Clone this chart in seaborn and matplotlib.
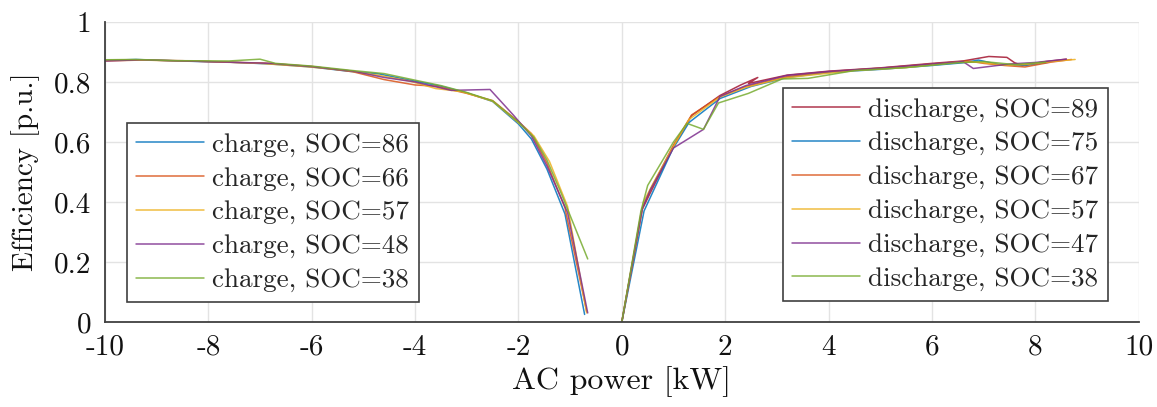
import numpy as np
import pandas as pd
import matplotlib
matplotlib.use("Agg")
import matplotlib.pyplot as plt
import seaborn as sns

# ---------------- data ----------------
charge_labels = ["charge, SOC=86", "charge, SOC=66", "charge, SOC=57",
                 "charge, SOC=48", "charge, SOC=38"]
charge_x = [
    [-10.0, -9.4, -8.6, -7.6, -6.8, -6.0, -5.3, -4.7, -4.1, -3.5, -3.0, -2.5, -2.0, -1.75, -1.45, -1.1, -0.72],
    [-10.0, -9.3, -8.5, -7.7, -6.9, -6.0, -5.2, -4.6, -4.0, -3.6, -3.0, -2.5, -2.0, -1.75, -1.45, -1.1, -0.68],
    [-10.0, -9.5, -8.8, -7.9, -7.0, -6.1, -5.3, -4.7, -4.1, -3.6, -3.1, -2.5, -2.0, -1.7, -1.4, -1.05, -0.68],
    [-10.0, -9.3, -8.5, -7.6, -6.8, -6.0, -5.2, -4.6, -4.0, -3.3, -2.55, -2.1, -1.75, -1.45, -1.05, -0.66],
    [-10.0, -9.4, -8.6, -7.6, -7.0, -6.7, -6.0, -5.2, -4.6, -4.0, -3.5, -3.0, -2.5, -2.0, -1.7, -1.45, -1.2, -0.66],
]
charge_y = [
    [0.872, 0.875, 0.870, 0.866, 0.860, 0.850, 0.836, 0.827, 0.806, 0.786, 0.764, 0.735, 0.660, 0.610, 0.510, 0.360, 0.025],
    [0.870, 0.873, 0.871, 0.866, 0.863, 0.852, 0.834, 0.808, 0.790, 0.786, 0.762, 0.738, 0.668, 0.628, 0.530, 0.380, 0.035],
    [0.872, 0.874, 0.871, 0.868, 0.862, 0.851, 0.838, 0.822, 0.803, 0.778, 0.768, 0.736, 0.664, 0.620, 0.535, 0.385, 0.030],
    [0.870, 0.874, 0.870, 0.866, 0.862, 0.851, 0.836, 0.815, 0.800, 0.772, 0.775, 0.690, 0.620, 0.520, 0.365, 0.030],
    [0.874, 0.875, 0.871, 0.870, 0.876, 0.862, 0.853, 0.838, 0.828, 0.806, 0.788, 0.765, 0.737, 0.666, 0.615, 0.540, 0.440, 0.210],
]

discharge_labels = ["discharge, SOC=89", "discharge, SOC=75", "discharge, SOC=67",
                    "discharge, SOC=57", "discharge, SOC=47", "discharge, SOC=38"]
discharge_x = [
    [0.0, 0.38, 0.55, 1.0, 1.35, 1.9, 2.3, 2.63, 2.45, 3.2, 4.0, 5.0, 6.0, 6.6, 7.1, 7.45, 7.6, 7.75, 8.2, 8.6],
    [0.0, 0.43, 0.98, 1.3, 1.9, 2.5, 3.2, 4.0, 5.0, 6.0, 6.6, 6.9, 7.3, 7.8, 8.27],
    [0.0, 0.4, 0.55, 1.0, 1.35, 1.9, 2.4, 3.2, 4.0, 5.0, 6.0, 6.7, 7.0, 7.4, 7.8, 8.3, 8.7],
    [0.0, 0.42, 0.6, 1.05, 1.3, 1.9, 2.4, 3.1, 3.6, 4.5, 5.5, 6.5, 6.9, 7.4, 7.8, 8.3, 8.77],
    [0.0, 0.4, 0.55, 1.0, 1.58, 1.9, 2.4, 3.2, 4.0, 5.0, 6.0, 6.6, 6.8, 7.5, 8.0, 8.6],
    [0.0, 0.37, 0.5, 1.0, 1.26, 1.58, 1.87, 2.45, 3.1, 3.6, 4.5, 5.5, 6.5, 7.0, 7.6, 8.2],
]
discharge_y = [
    [0.0, 0.37, 0.43, 0.585, 0.688, 0.755, 0.790, 0.815, 0.795, 0.823, 0.836, 0.847, 0.862, 0.870, 0.885, 0.882, 0.864, 0.855, 0.868, 0.876],
    [0.0, 0.37, 0.575, 0.665, 0.745, 0.785, 0.815, 0.832, 0.842, 0.855, 0.864, 0.873, 0.858, 0.855, 0.866],
    [0.0, 0.38, 0.44, 0.59, 0.69, 0.752, 0.785, 0.818, 0.834, 0.846, 0.860, 0.870, 0.862, 0.855, 0.850, 0.866, 0.875],
    [0.0, 0.40, 0.46, 0.60, 0.675, 0.750, 0.782, 0.812, 0.822, 0.838, 0.848, 0.866, 0.866, 0.856, 0.858, 0.868, 0.875],
    [0.0, 0.38, 0.44, 0.58, 0.642, 0.752, 0.788, 0.822, 0.835, 0.846, 0.860, 0.868, 0.845, 0.860, 0.865, 0.876],
    [0.0, 0.37, 0.455, 0.60, 0.662, 0.642, 0.730, 0.762, 0.810, 0.812, 0.838, 0.848, 0.864, 0.868, 0.858, 0.866],
]

x_ticks = [-10, -8, -6, -4, -2, 0, 2, 4, 6, 8, 10]
x_ticklabels = ["-10", "-8", "-6", "-4", "-2", "0", "2", "4", "6", "8", "10"]
y_ticks = [0, 0.2, 0.4, 0.6, 0.8, 1.0]
y_ticklabels = ["0", "0.2", "0.4", "0.6", "0.8", "1"]

# ---------------- style ----------------
sns.set_theme(style="white")
plt.rcParams["font.family"] = ["cmr10", "DejaVu Serif"]
plt.rcParams["mathtext.fontset"] = "cm"
plt.rcParams["axes.unicode_minus"] = False
plt.rcParams["axes.formatter.use_mathtext"] = True

charge_colors = ["#0072BD", "#D95319", "#EDB120", "#7E2F8E", "#77AC30"]
discharge_colors = ["#A2142F", "#0072BD", "#D95319", "#EDB120", "#7E2F8E", "#77AC30"]
axis_color = "#404040"

fig = plt.figure(figsize=(11.57, 4.07), dpi=100)
ax = fig.add_axes([0.0907, 0.209, 0.8935, 0.737])

ch_handles = []
for lab, xs, ys, c in zip(charge_labels, charge_x, charge_y, charge_colors):
    df = pd.DataFrame({"x": xs, "y": ys})
    sns.lineplot(data=df, x="x", y="y", sort=False, estimator=None, ax=ax,
                 color=c, linewidth=1.1, alpha=0.85, label=lab, legend=False)
    ch_handles.append(ax.lines[-1])

dis_handles = []
for lab, xs, ys, c in zip(discharge_labels, discharge_x, discharge_y, discharge_colors):
    df = pd.DataFrame({"x": xs, "y": ys})
    sns.lineplot(data=df, x="x", y="y", sort=False, estimator=None, ax=ax,
                 color=c, linewidth=1.1, alpha=0.85, label=lab, legend=False)
    dis_handles.append(ax.lines[-1])

ax.set_xlim(-10, 10)
ax.set_ylim(0, 1)
ax.set_xticks(x_ticks)
ax.set_xticklabels(x_ticklabels)
ax.set_yticks(y_ticks)
ax.set_yticklabels(y_ticklabels)

ax.grid(True, color="#e3e3e3", linewidth=1.0)
ax.set_axisbelow(True)
for s in ["top", "right"]:
    ax.spines[s].set_visible(False)
for s in ["left", "bottom"]:
    ax.spines[s].set_color(axis_color)
    ax.spines[s].set_linewidth(1.3)

ax.tick_params(axis="both", direction="in", length=8, width=1.2, colors=axis_color,
               labelcolor="#111111", labelsize=21)
ax.tick_params(axis="x", pad=9)
ax.tick_params(axis="y", pad=10)

ax.set_xlabel("AC power [kW]", fontsize=23, color="#111111", labelpad=4)
ax.set_ylabel("Efficiency [p.u.]", fontsize=21, color="#111111", labelpad=10)

leg_kw = dict(fontsize=19.5, frameon=True, fancybox=False, framealpha=1,
              edgecolor=axis_color, handlelength=2.5, handletextpad=0.3,
              labelspacing=0.36, borderpad=0.35, borderaxespad=0.0)
leg1 = ax.legend(handles=ch_handles, labels=charge_labels, loc="upper left",
                 bbox_to_anchor=(0.0213, 0.663), **leg_kw)
leg1.get_frame().set_linewidth(1.2)
ax.add_artist(leg1)
leg2 = ax.legend(handles=dis_handles, labels=discharge_labels, loc="upper right",
                 bbox_to_anchor=(0.970, 0.78), **leg_kw)
leg2.get_frame().set_linewidth(1.2)

fig.savefig("out.png", dpi=100)
